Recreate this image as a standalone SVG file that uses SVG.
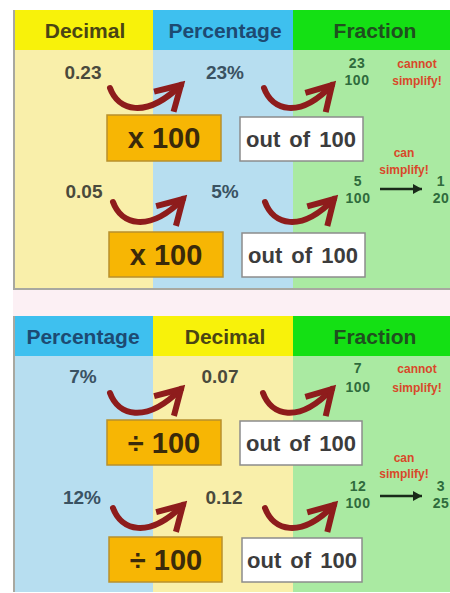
<svg xmlns="http://www.w3.org/2000/svg" width="450" height="593" viewBox="0 0 450 593">
<defs>
<style>
.hd{font-family:"Liberation Sans",Arial,sans-serif;font-weight:bold;font-size:21px;text-anchor:middle}
.num{font-family:"Liberation Sans",Arial,sans-serif;font-weight:bold;font-size:19px;text-anchor:middle}
.fr{font-family:"Liberation Sans",Arial,sans-serif;font-weight:bold;font-size:14px;text-anchor:middle;fill:#2f6b3c;letter-spacing:0.5px}
.red{font-family:"Liberation Sans",Arial,sans-serif;font-weight:bold;font-size:12px;text-anchor:middle;fill:#d9482a}
.op{font-family:"Liberation Sans",Arial,sans-serif;font-weight:bold;font-size:29px;text-anchor:middle;fill:#3a2a0a}
.oo{font-family:"Liberation Sans",Arial,sans-serif;font-weight:bold;font-size:22px;text-anchor:middle;fill:#3c3c3c;word-spacing:3px}
.ob{fill:#f7b604;stroke:#b8902c;stroke-width:1.5}
.wb{fill:#ffffff;stroke:#8c8c8c;stroke-width:1.5}
.arr{fill:none;stroke:#8e1c1c;stroke-width:6;stroke-linecap:round}
.blk{fill:none;stroke:#1a2a1a;stroke-width:2.5}
</style>
<marker id="ah" markerUnits="userSpaceOnUse" markerWidth="40" markerHeight="40" viewBox="-34 -20 40 40" refX="0" refY="0" orient="auto">
<polyline points="-24,-14 0,0 -24,14" fill="none" stroke="#8e1c1c" stroke-width="6" stroke-linejoin="miter"/>
</marker>
<marker id="bh" markerUnits="userSpaceOnUse" markerWidth="12" markerHeight="12" viewBox="-10 -6 12 12" refX="0" refY="0" orient="auto">
<path d="M0,0 L-9,-5 L-9,5 Z" fill="#1a2a1a"/>
</marker>
</defs>
<rect width="450" height="593" fill="#ffffff"/>
<rect x="13" y="289" width="437" height="27" fill="#fcf0f4"/>

<g id="panel-top">
<rect x="13" y="10" width="140" height="40" fill="#f8f20a"/>
<rect x="153" y="10" width="140" height="40" fill="#3ec0ef"/>
<rect x="293" y="10" width="157" height="40" fill="#14e014"/>
<rect x="13" y="50" width="140" height="239" fill="#f9efaa"/>
<rect x="153" y="50" width="140" height="239" fill="#b7def0"/>
<rect x="293" y="50" width="157" height="239" fill="#aaeaa2"/>
<path d="M14,10 L14,289 L450,289" fill="none" stroke="#a8a8a0" stroke-width="2"/>
</g>
<g id="panel-bottom">
<rect x="13" y="316" width="140" height="40" fill="#3ec0ef"/>
<rect x="153" y="316" width="140" height="40" fill="#f8f20a"/>
<rect x="293" y="316" width="157" height="40" fill="#14e014"/>
<rect x="13" y="356" width="140" height="236" fill="#b7def0"/>
<rect x="153" y="356" width="140" height="236" fill="#f9efaa"/>
<rect x="293" y="356" width="157" height="236" fill="#aaeaa2"/>
<path d="M14,316 L14,592" fill="none" stroke="#a8a8a0" stroke-width="2"/>
</g>

<g id="headers-top">
<text class="hd" x="85" y="38" fill="#4a4514">Decimal</text>
<text class="hd" x="225" y="38" fill="#1d4a72">Percentage</text>
<text class="hd" x="375" y="38" fill="#1f4f1f">Fraction</text>
</g>
<g id="headers-bottom">
<text class="hd" x="83" y="344" fill="#1d4a72">Percentage</text>
<text class="hd" x="225" y="344" fill="#4a4514">Decimal</text>
<text class="hd" x="375" y="344" fill="#1f4f1f">Fraction</text>
</g>

<g id="top-row1">
<text class="num" x="83" y="79" fill="#4a4a3c">0.23</text>
<text class="num" x="225" y="79" fill="#3a5262">23%</text>
<text class="fr" x="357" y="68">23</text>
<text class="fr" x="357" y="85">100</text>
<text class="red" x="417" y="68">cannot</text>
<text class="red" x="417" y="85">simplify!</text>
<rect class="ob" x="107" y="115" width="114" height="46"/>
<text class="op" x="164" y="148">x 100</text>
<rect class="wb" x="240" y="117" width="123" height="44"/>
<text class="oo" x="301" y="147">out of 100</text>
</g>
<g id="top-row2">
<text class="num" x="84" y="198" fill="#4a4a3c">0.05</text>
<text class="num" x="225" y="198" fill="#3a5262">5%</text>
<text class="red" x="404" y="157">can</text>
<text class="red" x="404" y="174">simplify!</text>
<text class="fr" x="358" y="186">5</text>
<text class="fr" x="358" y="203">100</text>
<text class="fr" x="441" y="186">1</text>
<text class="fr" x="441" y="203">20</text>
<rect class="ob" x="109" y="232" width="114" height="45"/>
<text class="op" x="166" y="265">x 100</text>
<rect class="wb" x="242" y="233" width="123" height="44"/>
<text class="oo" x="303" y="263">out of 100</text>
</g>
<g id="bottom-row1">
<text class="num" x="83" y="383" fill="#3a5262">7%</text>
<text class="num" x="220" y="383" fill="#4a4a3c">0.07</text>
<text class="fr" x="358" y="373">7</text>
<text class="fr" x="358" y="392">100</text>
<text class="red" x="417" y="373">cannot</text>
<text class="red" x="417" y="392">simplify!</text>
<rect class="ob" x="107" y="420" width="114" height="45"/>
<text class="op" x="164" y="453">÷ 100</text>
<rect class="wb" x="240" y="421" width="122" height="44"/>
<text class="oo" x="301" y="451">out of 100</text>
</g>
<g id="bottom-row2">
<text class="num" x="82" y="504" fill="#3a5262">12%</text>
<text class="num" x="224" y="504" fill="#4a4a3c">0.12</text>
<text class="red" x="404" y="462">can</text>
<text class="red" x="404" y="478">simplify!</text>
<text class="fr" x="358" y="491">12</text>
<text class="fr" x="358" y="508">100</text>
<text class="fr" x="441" y="491">3</text>
<text class="fr" x="441" y="508">25</text>
<rect class="ob" x="109" y="537" width="113" height="45"/>
<text class="op" x="166" y="570">÷ 100</text>
<rect class="wb" x="242" y="538" width="120" height="44"/>
<text class="oo" x="302" y="568">out of 100</text>
</g>

<g id="connectors">
<path class="arr" d="M110,88 C118,110 145,120 181,85" marker-end="url(#ah)"/>
<path class="arr" d="M264,88 C272,110 299,120 332,85" marker-end="url(#ah)"/>
<path class="arr" d="M113,202 C121,224 148,234 183,199" marker-end="url(#ah)"/>
<path class="arr" d="M265,202 C273,224 300,234 334,199" marker-end="url(#ah)"/>
<path class="arr" d="M110,393 C118,415 145,425 181,389" marker-end="url(#ah)"/>
<path class="arr" d="M263,393 C271,415 298,425 332,389" marker-end="url(#ah)"/>
<path class="arr" d="M113,508 C121,530 148,540 183,505" marker-end="url(#ah)"/>
<path class="arr" d="M265,508 C273,530 300,540 334,505" marker-end="url(#ah)"/>
<path class="blk" d="M380,189 L422,189" marker-end="url(#bh)"/>
<path class="blk" d="M380,496 L422,496" marker-end="url(#bh)"/>
</g>
</svg>
